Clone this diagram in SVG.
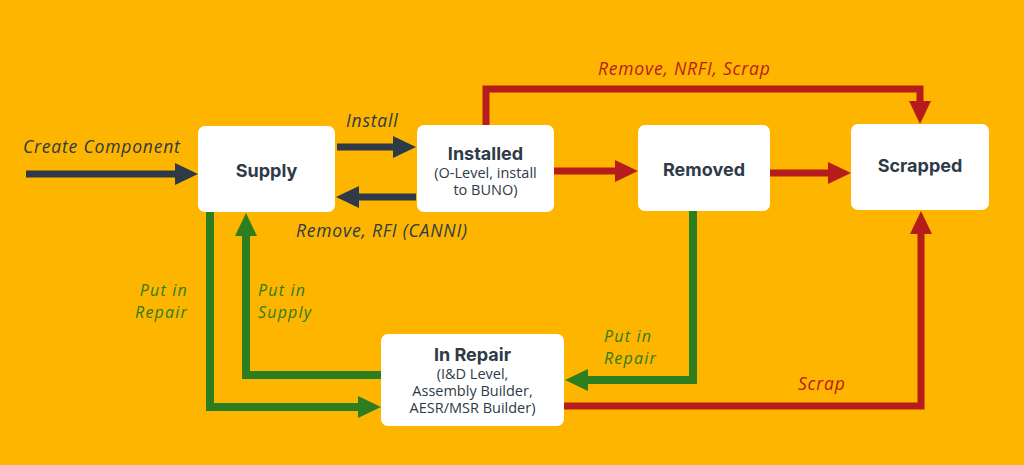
<svg xmlns="http://www.w3.org/2000/svg" width="1024" height="465" viewBox="0 0 1024 465">
<defs>
<style>
.node rect{fill:#ffffff;}
.title{font-family:Inter,"Open Sans","Liberation Sans",sans-serif;font-weight:700;fill:#2e3a47;text-anchor:middle;font-size:18px;}
.sub{font-family:"Open Sans","Liberation Sans",sans-serif;font-size:14.5px;fill:#2e3a47;text-anchor:middle;}
.lbl{font-family:"Open Sans","Liberation Sans",sans-serif;font-style:italic;font-size:17.5px;letter-spacing:0.8px;}
.two{font-size:16px;letter-spacing:1.2px;}
.dk{fill:#2e3a47;}
.rd{fill:#b71c1c;}
.gr{fill:#2e7d1e;}
.c{fill:none;stroke-linejoin:miter;stroke-linecap:butt;}
.cd{stroke:#2e3a47;stroke-width:7;}
.cr{stroke:#b71c1c;stroke-width:7;}
.cg{stroke:#2e7d1e;stroke-width:8;}
</style>
<marker id="ad" markerUnits="userSpaceOnUse" markerWidth="23" markerHeight="22" refX="0" refY="11" orient="auto"><path d="M0,0 L23,11 L0,22 z" fill="#2e3a47"/></marker>
<marker id="ar" markerUnits="userSpaceOnUse" markerWidth="23" markerHeight="22" refX="0" refY="11" orient="auto"><path d="M0,0 L23,11 L0,22 z" fill="#b71c1c"/></marker>
<marker id="ag" markerUnits="userSpaceOnUse" markerWidth="23" markerHeight="22" refX="0" refY="11" orient="auto"><path d="M0,0 L23,11 L0,22 z" fill="#2e7d1e"/></marker>
</defs>
<rect x="0" y="0" width="1024" height="465" fill="#fdb500"/>
<g id="connectors">
<path class="c cd" d="M26,174 H175" marker-end="url(#ad)"/>
<path class="c cd" d="M337,147 H393" marker-end="url(#ad)"/>
<path class="c cd" d="M416,197 H359" marker-end="url(#ad)"/>
<path class="c cr" d="M554,171 H615" marker-end="url(#ar)"/>
<path class="c cr" d="M770,173 H828" marker-end="url(#ar)"/>
<path class="c cr" d="M486,125 V89 H920 V101" marker-end="url(#ar)"/>
<path class="c cr" d="M564,406 H921 V234" marker-end="url(#ar)"/>
<path class="c cg" d="M693,211 V380 H588" marker-end="url(#ag)"/>
<path class="c cg" d="M210,212 V407 H358" marker-end="url(#ag)"/>
<path class="c cg" d="M381,375 H246 V236" marker-end="url(#ag)"/>
<text class="lbl dk" x="23" y="153">Create Component</text>
<text class="lbl dk" x="346" y="127">Install</text>
<text class="lbl dk" x="296" y="237">Remove, RFI (CANNI)</text>
<text class="lbl rd" x="598" y="75">Remove, NRFI, Scrap</text>
<text class="lbl rd" x="798" y="390">Scrap</text>
<text class="lbl two gr" text-anchor="end"><tspan x="188" y="296">Put in</tspan><tspan x="188" y="318">Repair</tspan></text>
<text class="lbl two gr"><tspan x="258" y="296">Put in</tspan><tspan x="258" y="318">Supply</tspan></text>
<text class="lbl two gr"><tspan x="604" y="342">Put in</tspan><tspan x="604" y="364">Repair</tspan></text>
</g>
<g id="supply" class="node">
<rect x="198" y="126" width="137" height="86" rx="7"/>
<text class="title" x="266.5" y="177">Supply</text>
</g>
<g id="installed" class="node">
<rect x="417" y="125" width="137" height="87" rx="7"/>
<text class="title" x="485.5" y="160">Installed</text>
<text class="sub"><tspan x="485.5" y="178">(O-Level, install</tspan><tspan x="485.5" y="195">to BUNO)</tspan></text>
</g>
<g id="removed" class="node">
<rect x="638" y="125" width="132" height="86" rx="7"/>
<text class="title" x="704" y="176">Removed</text>
</g>
<g id="scrapped" class="node">
<rect x="851" y="124" width="138" height="86" rx="7"/>
<text class="title" x="920" y="172">Scrapped</text>
</g>
<g id="inrepair" class="node">
<rect x="381" y="334" width="183" height="92" rx="7"/>
<text class="title" x="472.5" y="361">In Repair</text>
<text class="sub"><tspan x="472.5" y="379">(I&amp;D Level,</tspan><tspan x="472.5" y="396">Assembly Builder,</tspan><tspan x="472.5" y="413">AESR/MSR Builder)</tspan></text>
</g>
</svg>
